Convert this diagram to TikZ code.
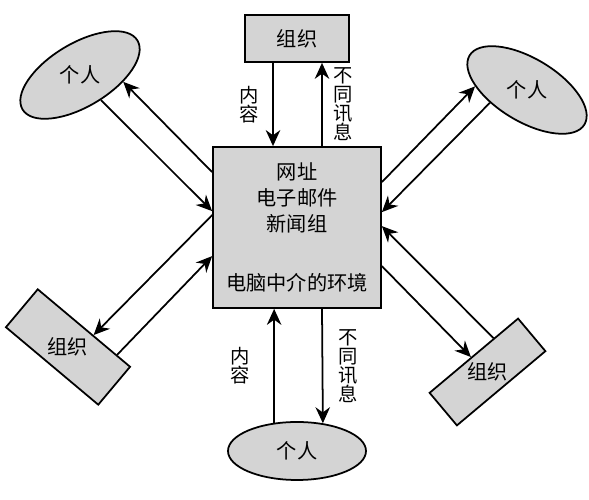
\documentclass[tikz,border=0pt]{standalone}
\usepackage{fontspec}
\newfontfamily\cjk{Noto Sans CJK SC}
\usetikzlibrary{arrows.meta}
\usetikzlibrary{shapes.geometric}

\begin{document}
\begin{tikzpicture}[
    font=\cjk\fontsize{11.5}{15}\selectfont,
    line width=1pt, >={Stealth[length=3.2mm,width=2.9mm]},
    block/.style={draw, fill=black!17, inner sep=0pt},
    oval/.style={draw, fill=black!17, ellipse, inner sep=0pt},
    side/.style={align=center, inner sep=0pt, font=\cjk\fontsize{11}{10.8}\selectfont}]
      \useasboundingbox (0,0) rectangle (11.78,10);

      \node[block, minimum width=3.36cm, minimum height=3.22cm, align=center] (net) at (5.94,5.45)
        {网址\\电子邮件\\新闻组\\[0.65cm]电脑中介的环境};
      \node[block, minimum width=2.08cm, minimum height=0.94cm] (org-top) at (5.94,9.23) {组织};
      \node[block, minimum width=2.41cm, minimum height=0.99cm, rotate=-40] (org-bl) at (1.36,3.06) {};
      \node (org-bl-txt) at (org-bl) {组织};
      \node[block, minimum width=2.31cm, minimum height=0.85cm, rotate=40] (org-br) at (9.75,2.56) {};
      \node (org-br-txt) at (org-br) {组织};
      \node[oval, minimum width=2.68cm, minimum height=1.26cm, rotate=31] (ind-tl) at (1.6,8.5) {};
      \node (ind-tl-txt) at (ind-tl) {个人};
      \node[oval, minimum width=2.68cm, minimum height=1.26cm, rotate=-31] (ind-tr) at (10.54,8.2) {};
      \node (ind-tr-txt) at (ind-tr) {个人};
      \node[oval, minimum width=2.76cm, minimum height=1.16cm] (ind-b) at (5.94,0.98) {个人};

      \draw[->] ([xshift=-0.48cm]org-top.south) -- node[side, left=0.27cm] {内\\容} ([xshift=-0.48cm]net.north);
      \draw[->] ([xshift=0.5cm]net.north) -- node[side, right=0.22cm] {不\\同\\讯\\息} ([xshift=0.5cm]org-top.south);
      \draw[->] (ind-b.129) -- node[side, left=0.46cm] {内\\容} (ind-b.129 |- net.south);
      \draw[->] ([xshift=0.5cm]net.south) -- node[side, right=0.3cm] {不\\同\\讯\\息} (ind-b.47);

      \draw[->] (ind-tl.279) -- ([yshift=-1.3cm]net.north west);
      \draw[->] ([yshift=-0.52cm]net.north west) -- (ind-tl.320);
      \draw[->] ([yshift=-0.72cm]net.north east) -- (ind-tr.207);
      \draw[->] (ind-tr.230) -- ([yshift=-1.32cm]net.north east);
      \draw[->] ([yshift=-1.38cm]net.north west) -- (org-bl.65);
      \draw[->] (org-bl.31) -- ([yshift=-2.2cm]net.north west);
      \draw[->] (org-br.40) -- ([yshift=-1.6cm]net.north east);
      \draw[->] ([yshift=-2.4cm]net.north east) -- (org-br.98);
    \end{tikzpicture}
\end{document}
